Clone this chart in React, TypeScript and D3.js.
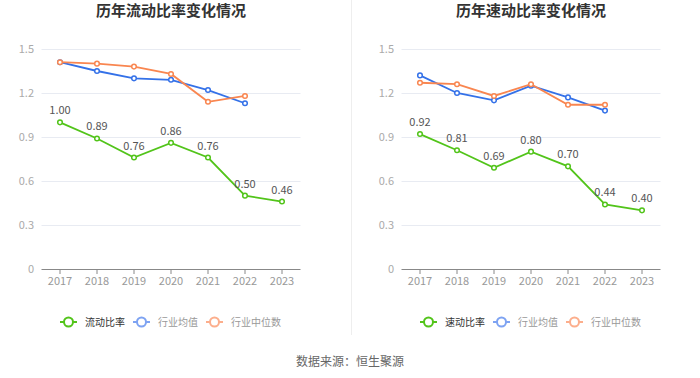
import React from "react";
import * as d3 from "d3";

const years = ["2017", "2018", "2019", "2020", "2021", "2022", "2023"];
const yTicks = [0, 0.3, 0.6, 0.9, 1.2, 1.5];

const currentRatio = [1.0, 0.89, 0.76, 0.86, 0.76, 0.5, 0.46];
const currentAvg = [1.41, 1.35, 1.3, 1.29, 1.22, 1.13];
const currentMedian = [1.41, 1.4, 1.38, 1.33, 1.14, 1.18];

const quickRatio = [0.92, 0.81, 0.69, 0.8, 0.7, 0.44, 0.4];
const quickAvg = [1.32, 1.2, 1.15, 1.25, 1.17, 1.08];
const quickMedian = [1.27, 1.26, 1.18, 1.26, 1.12, 1.12];

const GREEN = "#52c41a";
const BLUE = "#3471e8";
const ORANGE = "#f98650";
const FONT = "'Noto Sans CJK SC', 'Noto Sans', sans-serif";

type ChartProps = {
  ox: number;
  title: string;
  name: string;
  main: number[];
  avg: number[];
  median: number[];
};

function Chart({ ox, title, name, main, avg, median }: ChartProps) {
  const x = d3.scaleBand<string>().domain(years).range([ox + 41.5, ox + 300.5]);
  const y = d3.scaleLinear().domain([0, 1.5]).range([269, 49]);
  const cx = (i: number) => (x(years[i]) as number) + x.bandwidth() / 2;
  const line = d3
    .line<number>()
    .x((_, i) => cx(i))
    .y((d) => y(d));

  const series = [
    { data: avg, color: BLUE },
    { data: median, color: ORANGE },
    { data: main, color: GREEN },
  ];

  const legend = [
    { label: name, color: GREEN, text: "#333", op: 1, w: 40 },
    { label: "行业均值", color: "#7ea3f2", text: "#999", op: 1, w: 40 },
    { label: "行业中位数", color: "#fcae8c", text: "#999", op: 1, w: 50 },
  ];
  let lx = ox + 60;

  return (
    <g>
      <text
        x={ox + 171}
        y={16}
        textAnchor="middle"
        fontSize={15}
        fontWeight="bold"
        fill="#333"
        fontFamily={FONT}
      >
        {title}
      </text>
      {yTicks.map((t) => (
        <g key={t}>
          {t > 0 && (
            <line
              x1={ox + 41.5}
              x2={ox + 300.5}
              y1={Math.round(y(t)) + 0.5}
              y2={Math.round(y(t)) + 0.5}
              stroke="#e8ebf2"
            />
          )}
          <text
            x={ox + 34}
            y={y(t) + 4}
            textAnchor="end"
            fontSize={11}
            fill="#aaa"
            fontFamily={FONT}
          >
            {t === 0 ? "0" : t.toFixed(1)}
          </text>
        </g>
      ))}
      <line x1={ox + 41.5} x2={ox + 300.5} y1={269.5} y2={269.5} stroke="#888" />
      {years.map((yr, i) => (
        <g key={yr}>
          <line x1={cx(i)} x2={cx(i)} y1={269.5} y2={274} stroke="#888" />
          <text
            x={cx(i)}
            y={285}
            textAnchor="middle"
            fontSize={11}
            fill="#999"
            fontFamily={FONT}
          >
            {yr}
          </text>
        </g>
      ))}
      {series.map((s, k) => (
        <g key={k}>
          <path d={line(s.data) || ""} fill="none" stroke={s.color} strokeWidth={1.8} />
          {s.data.map((d, i) => (
            <circle key={i} cx={cx(i)} cy={y(d)} r={2.3} fill="#fff" stroke={s.color} strokeWidth={1.5} />
          ))}
        </g>
      ))}
      {main.map((d, i) => (
        <text
          key={i}
          x={cx(i)}
          y={y(d) - 8}
          textAnchor="middle"
          fontSize={11}
          fill="#555"
          fontFamily={FONT}
        >
          {d.toFixed(2)}
        </text>
      ))}
      {legend.map((l) => {
        const x0 = lx;
        lx += 17 + 8 + l.w + 8;
        return (
          <g key={l.label}>
            <line x1={x0} x2={x0 + 17} y1={322} y2={322} stroke={l.color} strokeWidth={2} />
            <circle cx={x0 + 8.5} cy={322} r={4.5} fill="#fff" stroke={l.color} strokeWidth={2} />
            <text x={x0 + 25} y={325.5} fontSize={10} fill={l.text} fontFamily={FONT}>
              {l.label}
            </text>
          </g>
        );
      })}
    </g>
  );
}

export default function App() {
  return (
    <svg
      width={700}
      height={378}
      style={{ position: "absolute", left: 0, top: 0, background: "#fff" }}
    >
      <line x1={351.5} x2={351.5} y1={0} y2={335} stroke="#eeeeee" />
      <Chart
        ox={0}
        title="历年流动比率变化情况"
        name="流动比率"
        main={currentRatio}
        avg={currentAvg}
        median={currentMedian}
      />
      <Chart
        ox={360}
        title="历年速动比率变化情况"
        name="速动比率"
        main={quickRatio}
        avg={quickAvg}
        median={quickMedian}
      />
      <text x={350} y={366} textAnchor="middle" fontSize={12} fill="#666" fontFamily={FONT}>
        数据来源：恒生聚源
      </text>
    </svg>
  );
}
